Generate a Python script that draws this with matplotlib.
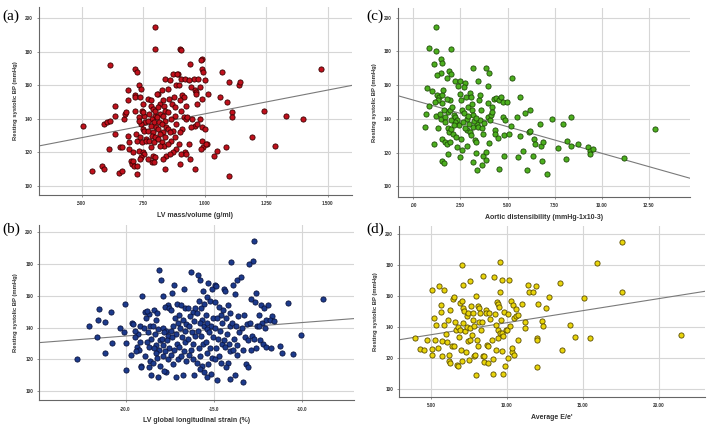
import matplotlib
matplotlib.use("Agg")
import matplotlib.pyplot as plt

# (a) LV mass/volume vs resting systolic BP
a_x = [.507, .542, .584, .592, .615, .592, .603, .615, .612, .636, .635, .635, .653, .663, .656, .663,
       .672, .676, .680, .687, .690, .690, .694, .692, .699, .703, .707, .713, .715, .724, .717, .718,
       .718, .721, .724, .725, .726, .710,
       .735, .742, .738, .750, .745, .752, .733, .758, .740, .748, .755, .737, .760, .745, .732, .750,
       .755, .742, .738, .762, .750, .733,
       .770, .780, .790, .775, .800, .785, .768, .795, .780, .803, .770, .790, .785, .800, .775, .795,
       .783, .790, .800, .785, .793, .770, .780, .797, .797, .797,
       .840, .825, .810, .830, .818, .835, .812, .840, .820, .830, .808, .838, .815, .826, .843, .810,
       .832, .820, .840, .812, .828, .835, .818, .845, .830, .840, .806,
       .870, .860, .883, .850, .875, .855, .868, .880, .852, .878, .862, .885, .850, .872, .858, .880,
       .865, .853, .885, .870, .860, .890,
       .900, .902, .905, .920, .895, .910, .915, .900, .925, .905, .915, .925, .910, .900, .895, .920,
       .905, .900, .925, .888,
       .940, .955, .945, .960, .965, .930, .950, .960, .945, .935, .940, .960, .935, .965,
       .990, .985, .990, .993, 1.000, .980, .990, 1.015, .980, .970, .990, 1.000, .990, 1.010, .995,
       1.005, .985, 1.040, .970, .975,
       1.050, 1.070, 1.063, 1.093, 1.088, 1.098, 1.110, 1.110, 1.138, 1.142, 1.192, 1.242, 1.286,
       1.331, 1.399, 1.475, 1.098]
a_y = [136, 109, 112, 110, 172, 137, 138, 139, 122, 148, 142, 131, 108, 109, 123, 123,
       140, 143, 144, 157, 151, 130, 126, 122, 115, 113, 115, 112, 170, 168, 154, 153,
       145, 131, 127, 112, 107, 120,
       160, 158, 153, 149, 145, 142, 141, 138, 137, 134, 133, 129, 128, 126, 121, 120,
       119, 117, 116, 127, 144, 139,
       152, 148, 146, 143, 142, 140, 139, 138, 136, 135, 133, 132, 130, 129, 127, 126,
       123, 118, 117, 114, 114, 116, 151, 145, 195, 182,
       164, 157, 155, 151, 149, 148, 147, 145, 143, 142, 141, 139, 138, 137, 135, 134,
       132, 131, 129, 128, 126, 124, 124, 118, 116, 110, 155,
       167, 163, 160, 158, 153, 152, 149, 147, 144, 142, 140, 137, 134, 133, 132, 129,
       127, 125, 122, 120, 119, 167,
       182, 181, 164, 164, 160, 154, 153, 151, 148, 145, 141, 140, 134, 132, 125, 120,
       119, 113, 119, 167,
       173, 164, 159, 157, 156, 141, 140, 136, 135, 125, 116, 110, 163, 155,
       176, 175, 170, 168, 163, 159, 152, 155, 140, 137, 135, 134, 127, 125, 123,
       125, 122, 118, 149, 164,
       121, 168, 153, 150, 123, 162, 144, 141, 160, 162, 129, 145, 124,
       142, 140, 170, 106]

# (b) LV global longitudinal strain
b_x = [-22.78, -22.10, -21.65, -21.50, -21.55, -21.15, -21.15, -20.83, -20.80, -20.30, -20.04, -20.10,
       -19.98, -19.95, -19.70, -19.66, -19.60,
       -19.05, -19.30, -19.45, -19.20, -19.35, -19.25, -19.40, -19.10, -19.15, -19.48, -19.20,
       -18.90, -18.70, -18.85, -18.60, -18.95, -18.75, -18.55, -18.80, -18.65, -18.90, -18.60, -18.70,
       -18.55, -18.80,
       -18.10, -18.00, -18.40, -18.20, -18.30, -18.45, -18.15, -18.35, -18.05, -18.25, -18.40, -18.10,
       -18.30, -18.20, -18.45, -18.05, -18.15,
       -17.85, -17.60, -17.75, -17.55, -17.90, -17.70, -17.80, -17.60, -17.95, -17.65, -17.85, -17.55,
       -17.75, -17.90, -17.60, -17.70, -17.80,
       -17.25, -17.35, -17.10, -17.40, -17.20, -17.05, -17.30, -17.45, -17.15, -17.35, -17.10, -17.25,
       -17.40, -17.05, -17.30, -17.15,
       -16.70, -16.85, -16.60, -16.95, -16.75, -16.55, -16.90, -16.65, -16.80, -16.60, -16.95, -16.70,
       -16.85, -16.55, -16.75,
       -16.30, -16.45, -16.20, -16.35, -16.10, -16.40, -16.25, -16.05, -16.45, -16.15, -16.30, -16.40,
       -16.20, -16.10, -16.05,
       -15.90, -15.75, -15.60, -15.85, -15.55, -15.70, -15.95, -15.65, -15.80, -15.55, -15.90, -15.70,
       -15.60, -15.85, -15.75, -15.95, -15.65, -15.80, -15.55,
       -15.30, -15.10, -15.40, -15.20, -15.45, -15.05, -15.35, -15.15, -15.40, -15.25, -15.05, -15.45,
       -15.20, -15.35, -15.10, -15.30, -15.15, -15.40,
       -14.90, -14.85, -14.95, -14.70, -14.60, -14.80, -14.55, -14.90, -14.65, -14.75, -14.55, -14.85,
       -14.70, -14.95, -14.60, -14.80,
       -14.40, -14.35, -14.20, -14.45, -14.10, -14.30, -14.05, -14.25, -14.40, -14.15, -14.35, -14.05,
       -14.20, -14.30, -14.10,
       -14.00, -13.70, -13.90, -13.80, -13.60, -13.95, -13.75, -13.55, -13.85, -13.65, -13.90, -13.70,
       -13.80,
       -13.45, -13.30, -13.10, -13.40, -13.20, -13.05, -13.35, -13.15, -13.05, -13.35,
       -12.70, -12.75, -13.00, -12.60, -12.90, -12.65, -12.95, -12.55, -12.85, -12.70, -12.60, -12.90,
       -12.30, -12.15, -12.40, -12.05, -12.25, -12.45, -12.10, -12.35, -12.20, -12.05,
       -11.90, -11.70, -11.80, -11.60, -11.75,
       -11.23, -11.14, -10.76, -10.50, -10.04, -8.80]
b_y = [120.3, 141.2, 133.9, 151.9, 145.0, 143.3, 124.1, 150.0, 130.3, 140.0, 155.0, 137.5,
       113.2, 130.3, 123.0, 143.0, 142.0,
       159.6, 136, 134, 131, 128, 126, 125, 116, 115.5, 138, 141,
       150, 148.5, 146, 141, 140, 137, 133, 131, 128, 122, 119, 115,
       110, 150.5,
       176, 170, 151, 149, 145, 141, 139, 136, 132, 129, 127, 126,
       124, 121, 118, 116, 109,
       160, 154, 153, 152, 140, 138, 137, 135, 133, 132, 129, 127,
       125, 122, 120, 112, 113,
       167, 162, 155, 151, 146, 143, 141, 138, 136, 134, 130, 126,
       123, 120, 117, 109,
       164, 154, 152, 148, 145, 142, 140, 138, 134, 131, 128, 125,
       122, 119, 110,
       175, 152, 150, 147, 144, 141, 137, 135, 133, 130, 126, 123,
       120, 110, 152,
       173, 170, 163, 157, 155, 152, 149, 145, 143, 141, 138, 135,
       130, 127, 122, 118, 116, 114, 112,
       168, 164, 159, 157, 148, 146, 143, 141, 139, 137, 134, 131,
       127, 124, 121, 117, 111, 109,
       167, 166, 156, 153, 148, 146, 143, 140, 138, 133, 130, 127,
       122, 120, 118, 107,
       164, 163, 154, 151, 149, 146, 141, 136, 132, 130, 128, 125,
       118, 115, 108,
       181, 170, 167, 161, 147, 143, 141, 137, 133, 129, 126, 123,
       110,
       172, 148, 142, 140, 134, 132, 126, 117, 115, 106,
       194.6, 181.6, 180, 162, 158, 156, 143, 141, 135, 133, 127, 126,
       154, 152, 148, 145, 143, 141, 140, 132, 130, 128,
       154, 147, 145, 144, 127,
       128.2, 124.0, 155.4, 123.2, 135.4, 157.9]

# (c) Aortic distensibility
c_x = [1.22, 0.82, 1.22, 2.02, 1.10, 1.45, 1.52, 1.49, 1.26, 1.90, 2.00, 1.76, 2.23, 2.50, 3.16, 3.85,
       3.99, 3.42, 3.94, 5.25, 0.74, 0.98, 1.24, 1.37, 1.54,
       0.59, 0.69, 0.82, 1.10, 1.22, 1.31, 1.45, 1.52, 1.52, 1.60, 1.67, 1.76, 1.81, 1.84, 1.90, 1.95,
       1.98, 2.09, 1.67, 1.84, 1.95, 2.06, 1.93, 1.76, 1.54, 1.63, 2.13, 2.20, 2.34, 2.29, 2.48, 2.45,
       2.38, 2.52, 2.73, 2.66, 2.78, 2.59, 2.70, 2.82, 2.91, 2.87, 2.84, 3.00, 3.05, 3.09, 3.12, 3.17,
       3.00, 3.05, 3.14, 3.17, 3.26, 3.30, 3.33, 3.37, 3.48, 3.55, 3.58, 3.53, 3.44, 3.40, 3.62, 3.65,
       3.69, 3.72, 3.83, 3.88, 3.94, 3.97, 4.06, 4.11, 4.15, 4.18, 4.29, 4.33, 4.33, 4.41, 4.47, 4.54,
       4.57, 4.65, 4.77, 4.82, 4.77, 4.89, 4.79, 4.96, 5.07, 5.18, 5.48, 5.57, 5.66, 5.66, 5.83, 5.92,
       6.01, 6.13, 6.19, 6.22, 6.37, 6.42, 6.45, 6.74, 6.77, 6.81, 6.90, 7.09, 7.38, 7.70, 7.96, 8.10,
       8.14, 8.37, 8.37, 8.76, 9.29, 9.38, 9.38, 9.56, 11.17, 12.84,
       2.20, 2.41, 2.64, 2.73, 2.94, 2.02, 2.13, 1.31, 1.13, 1.58, 1.40, 2.55, 3.20, 3.75, 4.00, 2.90,
       3.35, 2.60, 1.70, 2.25]
c_y = [194.5, 181.8, 180.2, 181.2, 172.3, 175.2, 172.9, 167.3, 166.1, 168.1, 166.5, 164.0, 162.2,
       162.6, 170.1, 170.3, 167.3, 162.6, 159.6, 164.2, 158.4, 156.6, 154.1, 153.1, 154.3,
       134.9, 142.6, 147.5, 124.8, 141.6, 134.7, 140.0, 128.3, 115.0, 113.9, 126.3, 125.3, 134.3,
       119.4, 132.3, 126.3, 133.7, 131.3, 141.2, 144.2, 145.1, 147.1, 151.1, 151.7, 149.1, 145.1,
       142.2, 141.2, 139.2, 123.4, 117.4, 155.0, 159.6, 151.1, 161.0, 158.6, 153.0, 145.1, 143.2,
       139.8, 147.1, 133.3, 124.2, 155.4, 153.0, 148.7, 145.1, 142.2, 132.3, 130.3, 135.2, 114.5,
       127.3, 126.3, 119.8, 136.8, 151.1, 154.1, 145.1, 139.2, 135.2, 109.5, 112.5, 134.3, 131.3,
       117.8, 120.4, 115.8, 141.2, 149.1, 139.2, 142.2, 147.1, 144.2, 151.5, 133.3, 131.3, 152.1,
       128.7, 110.1, 151.1, 153.0, 150.1, 130.3, 141.2, 139.6, 117.8, 150.1, 131.3, 135.6, 141.2,
       117.4, 153.0, 130.1, 120.8, 143.2, 109.5, 132.3, 145.1, 132.9, 117.8, 127.9, 125.0, 136.8,
       124.0, 115.0, 126.0, 107.1, 140.0, 123.0, 137.2, 116.0, 126.9, 124.2, 141.0, 125.0, 123.4,
       121.0, 119.0, 122.2, 117.0, 133.9,
       138.2, 136.2, 138.2, 134.3, 137.2, 139.2, 136.6, 151.1, 150.1, 157.0, 143.0, 128.0, 138.5,
       137.5, 125.5, 141.5, 140.5, 121.5, 138.0, 129.0]

# (d) Average E/e'
d_x = [3.95, 4.28, 4.56, 4.71, 5.04, 5.04, 5.09, 5.22, 5.26, 5.31, 5.48, 5.53, 5.66, 5.66, 5.70, 5.75,
       5.83, 5.88, 5.96, 6.03, 6.14, 6.18, 6.18, 6.23, 6.25, 6.36, 6.43, 6.49, 6.54, 6.58, 6.64, 6.69,
       6.75, 6.80, 6.84, 6.91, 6.93, 6.97, 7.02, 7.02, 7.06, 7.11, 7.13, 7.13, 7.19, 7.24, 7.28, 7.35,
       7.37, 7.41, 7.46, 7.52, 7.57, 7.57, 7.59, 7.63, 7.68, 7.74, 7.79, 7.81, 7.85, 7.89, 7.94, 7.96,
       8.00, 8.07, 8.11, 8.16, 8.18, 8.22, 8.29, 8.33, 8.40, 8.44, 8.46, 8.50, 8.60, 8.62, 8.66, 8.73,
       8.77, 8.84, 8.88, 8.99, 9.06, 9.10, 9.17, 9.21, 9.25, 9.30, 9.32, 9.39, 9.39, 9.43, 9.47, 9.52,
       9.54, 9.56, 9.61, 9.65, 9.65, 9.69, 9.72, 9.76, 9.80, 9.87, 9.91, 9.98, 10.04, 10.09, 10.15,
       10.20, 10.26, 10.31, 10.35, 10.42, 10.48, 10.48, 10.57, 10.61, 10.75, 10.75, 10.96, 11.18,
       11.18, 11.36, 11.45, 11.73, 11.89, 11.97, 11.97, 11.97, 12.06, 12.28, 12.39, 12.57, 12.76,
       13.49, 13.60, 14.14, 14.47, 15.09, 15.46, 15.94, 17.59, 17.59, 21.45]
d_y = [133.0, 126.0, 125.3, 131.8, 164.0, 125.8, 121.7, 145.9, 131.8, 141.0, 126.6, 166.1, 154.1,
       149.8, 130.9, 121.0, 163.5, 141.0, 135.6, 130.0, 144.2, 121.9, 118.0, 151.1, 116.7, 127.9,
       157.9, 127.9, 159.2, 142.9, 138.2, 115.7, 114.6, 139.7, 133.3, 155.4, 137.8, 125.3, 180.0,
       156.4, 118.0, 142.5, 151.9, 167.0, 150.0, 137.6, 123.6, 146.8, 139.9, 130.7, 148.9, 118.9,
       169.5, 139.1, 131.8, 153.2, 135.0, 148.9, 144.6, 121.5, 140.3, 122.1, 159.7, 108.8, 131.8,
       127.5, 153.6, 152.1, 142.9, 148.9, 138.2, 142.9, 121.0, 172.5, 117.6, 121.5, 151.1, 148.9,
       128.5, 116.7, 127.5, 148.9, 145.1, 131.8, 109.9, 119.3, 171.9, 148.3, 141.0, 124.9, 155.8,
       154.9, 137.8, 132.6, 152.6, 136.1, 162.2, 181.5, 144.6, 124.2, 136.1, 170.0, 133.9, 109.9,
       149.8, 115.0, 137.8, 138.2, 120.0, 148.1, 170.0, 140.3, 156.4, 123.6, 126.4, 154.1, 145.5,
       121.9, 151.5, 147.2, 147.6, 131.8, 154.9, 143.3, 139.1, 167.2, 162.2, 162.2, 166.1, 133.0,
       131.3, 114.2, 154.5, 144.0, 140.3, 152.1, 159.0, 168.0, 125.3, 141.0, 133.5, 158.4, 132.8,
       181.1, 194.4, 162.4, 134.8]

# fit lines: (slope, intercept)
fits = {"a": (28.4, 114.6), "b": (0.844, 151.6), "c": (-3.15, 151.1), "d": (1.552, 127.2)}

y_ticks = [100, 120, 140, 160, 180, 200]
a_ticks = [0.5, 0.75, 1.0, 1.25, 1.5]
a_labels = [".500", ".750", "1.000", "1.250", "1.500"]
b_ticks = [-20, -15, -10]
b_labels = ["-20.0", "-15.0", "-10.0"]
c_ticks = [0, 2.5, 5, 7.5, 10, 12.5]
c_labels = [".00", "2.50", "5.00", "7.50", "10.00", "12.50"]
d_ticks = [5, 10, 15, 20]
d_labels = ["5.00", "10.00", "15.00", "20.00"]

plt.rcParams["font.family"] = ["Liberation Sans", "DejaVu Sans"]
fig = plt.figure(figsize=(7.1, 4.26), dpi=100)


def panel(pos, xs, ys, fit, xlim, ylim, xt, xl, xlabel, fc, ec, tag, tagpos):
    ax = fig.add_axes(pos)
    ax.set_xlim(xlim)
    ax.set_ylim(ylim)
    ax.set_xticks(xt)
    ax.set_xticklabels(xl)
    ax.set_yticks(y_ticks)
    ax.set_yticklabels([str(v) for v in y_ticks])
    ax.grid(True, color="#d6d6d6", linewidth=0.8)
    ax.set_axisbelow(True)
    for s in ["top", "right"]:
        ax.spines[s].set_visible(False)
    for s in ["left", "bottom"]:
        ax.spines[s].set_color("#666666")
        ax.spines[s].set_linewidth(0.8)
    ax.tick_params(length=1.5, width=0.5, colors="#666666", labelsize=3.3, labelcolor="#333333", pad=3)
    for t in ax.get_xticklabels() + ax.get_yticklabels():
        t.set_fontweight("bold")
    ax.scatter(xs, ys, s=14, c=fc, edgecolors=ec, linewidths=0.6, zorder=3)
    k, b0 = fit
    ax.plot(list(xlim), [k * xlim[0] + b0, k * xlim[1] + b0], color="#7a7a7a", lw=0.8, zorder=2)
    ax.set_xlabel(xlabel, fontsize=5, fontweight="bold", color="#333333", labelpad=4)
    ax.set_ylabel("Resting systolic BP (mmHg)", fontsize=4.2, fontweight="bold",
                  color="#333333", labelpad=5)
    fig.text(tagpos[0], tagpos[1], tag, fontsize=11, family="Liberation Serif", va="center")
    return ax


panel([0.0549, 0.5423, 0.4408, 0.4413], a_x, a_y, fits["a"], (0.3266, 1.599), (94.6, 206.8),
      a_ticks, a_labels, "LV mass/volume (g/ml)", "#c0101c", "#3a0000", "(a)", (0.004, 0.963))
panel([0.5606, 0.5376, 0.4113, 0.4437], c_x, c_y, fits["c"], (-0.82, 14.7), (93.7, 205.7),
      c_ticks, c_labels, "Aortic distensibility (mmHg-1x10-3)", "#4caf1e", "#1e4a08", "(c)",
      (0.516, 0.963))
panel([0.0554, 0.0603, 0.4432, 0.4122], b_x, b_y, fits["b"], (-24.9, -7.03), (94.35, 204.6),
      b_ticks, b_labels, "LV global longitudinal strain (%)", "#1c3a8c", "#0a1440", "(b)",
      (0.004, 0.463))
panel([0.5624, 0.0681, 0.4306, 0.4021], d_x, d_y, fits["d"], (2.92, 23.03), (94.85, 205.2),
      d_ticks, d_labels, "Average E/e'", "#e8d40a", "#5a4c00", "(d)", (0.516, 0.462))

fig.savefig("out.png", dpi=100)
